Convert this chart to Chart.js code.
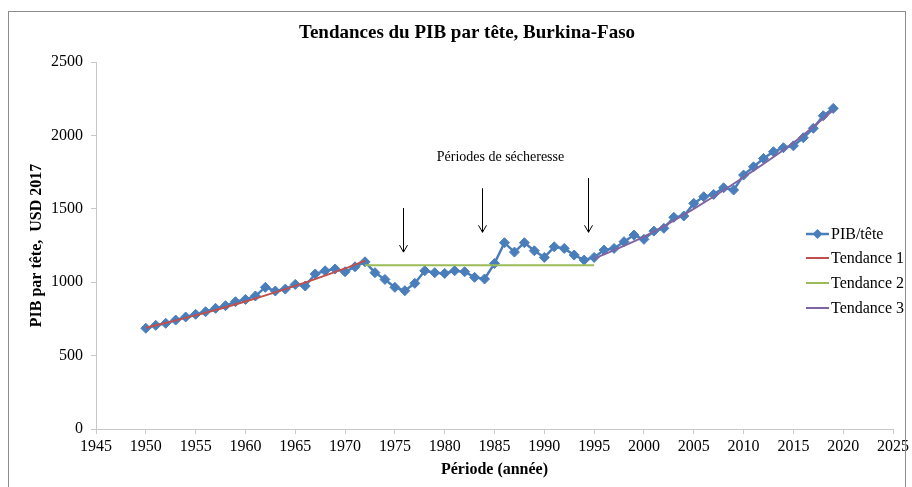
<!DOCTYPE html>
<html><head><meta charset="utf-8">
<script src="https://cdn.jsdelivr.net/npm/chart.js@4"></script>
<style>html,body{margin:0;padding:0;background:#fff;} #wrap{position:relative;width:912px;height:487px;}</style>
</head><body><div id="wrap"><canvas id="c" width="912" height="487"></canvas></div>
<script>
const years = [1950,1951,1952,1953,1954,1955,1956,1957,1958,1959,1960,1961,1962,1963,1964,1965,1966,1967,1968,1969,
1970,1971,1972,1973,1974,1975,1976,1977,1978,1979,1980,1981,1982,1983,1984,1985,1986,1987,1988,1989,
1990,1991,1992,1993,1994,1995,1996,1997,1998,1999,2000,2001,2002,2003,2004,2005,2006,2007,2008,2009,
2010,2011,2012,2013,2014,2015,2016,2017,2018,2019];
const pib = [686,706,720,742,763,781,799,822,840,867,883,906,965,940,953,985,974,1056,1078,1090,
1071,1105,1139,1065,1019,965,942,992,1078,1065,1060,1078,1071,1033,1022,1128,1269,1205,1269,1214,
1169,1241,1230,1185,1151,1169,1219,1230,1276,1321,1292,1348,1367,1442,1451,1537,1582,1598,1643,1628,
1730,1786,1843,1889,1916,1929,1984,2048,2134,2184];
const trend1Years = [1950,1955,1960,1965,1970,1972];
const trend1 = [690,774,869,975,1094,1146];
const trend2Years = [1972,1995];
const trend2 = [1115,1115];
const trend3Years = [1995,2000,2005,2010,2015,2019];
const trend3 = [1160,1310,1500,1715,1950,2172];
const seriesNames = ['PIB/tête','Tendance 1','Tendance 2','Tendance 3'];
const seriesColors = ['#4A7EBB','#C0504D','#9BBB59','#8064A2'];
const chartTitle = 'Tendances du PIB par tête, Burkina-Faso';
const xTitle = 'Période (année)';
const yTitle = 'PIB par tête,  USD 2017';
const droughtLabel = 'Périodes de sécheresse';
const droughtLabelPos = [1985.6, 1850];
const arrowYears = [1975.85, 1983.7, 1994.4];
const arrowTops = [1505, 1640, 1710];
const arrowBottoms = [1205, 1340, 1340];

const pts = (xs, ys) => xs.map((x, i) => ({x: x, y: ys[i]}));
const SERIF = '"Liberation Serif", "Times New Roman", serif';

const decor = {
  id: 'decor',
  afterDraw(chart) {
    const ctx = chart.ctx;
    const xs = chart.scales.x, ys = chart.scales.y;
    ctx.save();
    ctx.strokeStyle = '#8c8c8c';
    ctx.lineWidth = 1;
    ctx.strokeRect(8.5, 11.5, 897, 490);
    ctx.fillStyle = '#000';
    ctx.font = 'bold 19px ' + SERIF;
    ctx.textAlign = 'center';
    ctx.textBaseline = 'middle';
    ctx.fillText(chartTitle, 467, 33);
    ctx.font = '14px ' + SERIF;
    ctx.fillText(droughtLabel, xs.getPixelForValue(droughtLabelPos[0]), ys.getPixelForValue(droughtLabelPos[1]));
    ctx.strokeStyle = '#000';
    ctx.lineWidth = 1;
    arrowYears.forEach((yr, i) => {
      const x = Math.round(xs.getPixelForValue(yr)) + 0.5;
      const y1 = ys.getPixelForValue(arrowTops[i]);
      const y2 = ys.getPixelForValue(arrowBottoms[i]);
      ctx.beginPath();
      ctx.moveTo(x, y1); ctx.lineTo(x, y2);
      ctx.moveTo(x - 4, y2 - 7); ctx.lineTo(x, y2); ctx.lineTo(x + 4, y2 - 7);
      ctx.stroke();
    });
    ctx.font = '16px ' + SERIF;
    ctx.textAlign = 'left';
    const ly = [234, 258, 283, 308];
    seriesNames.forEach((n, i) => {
      ctx.strokeStyle = seriesColors[i];
      ctx.lineWidth = i === 0 ? 2.5 : 2;
      ctx.beginPath(); ctx.moveTo(806, ly[i]); ctx.lineTo(829, ly[i]); ctx.stroke();
      if (i === 0) {
        ctx.fillStyle = seriesColors[0];
        ctx.beginPath();
        ctx.moveTo(817.5, ly[i] - 5); ctx.lineTo(822.5, ly[i]); ctx.lineTo(817.5, ly[i] + 5); ctx.lineTo(812.5, ly[i]);
        ctx.closePath(); ctx.fill();
      }
      ctx.fillStyle = '#000';
      ctx.fillText(n, 831, ly[i] + 1);
    });
    ctx.restore();
  }
};

new Chart(document.getElementById('c'), {
  type: 'line',
  data: {
    datasets: [
      {label: seriesNames[0], data: pts(years, pib), borderColor: seriesColors[0], backgroundColor: seriesColors[0],
       borderWidth: 2.5, pointStyle: 'rectRot', pointRadius: 5, pointBorderWidth: 1,
       pointBackgroundColor: seriesColors[0], pointBorderColor: seriesColors[0], order: 2},
      {label: seriesNames[1], data: pts(trend1Years, trend1), borderColor: seriesColors[1], borderWidth: 2,
       pointRadius: 0, cubicInterpolationMode: 'monotone', order: 1},
      {label: seriesNames[2], data: pts(trend2Years, trend2), borderColor: seriesColors[2], borderWidth: 2,
       pointRadius: 0, order: 1},
      {label: seriesNames[3], data: pts(trend3Years, trend3), borderColor: seriesColors[3], borderWidth: 2,
       pointRadius: 0, cubicInterpolationMode: 'monotone', order: 1}
    ]
  },
  options: {
    responsive: false,
    animation: false,
    devicePixelRatio: 1,
    layout: {padding: {left: 0, right: 16, top: 62, bottom: 0}},
    plugins: {legend: {display: false}, title: {display: false}, tooltip: {enabled: false}},
    scales: {
      x: {
        type: 'linear', min: 1945, max: 2025,
        afterFit(s) { s.height = 58; },
        ticks: {stepSize: 5, color: '#000', font: {family: SERIF, size: 16}, padding: 3, maxRotation: 0,
                callback: v => String(v)},
        grid: {display: true, drawOnChartArea: false, drawTicks: true, tickLength: 5, color: '#c8c8c8'},
        border: {display: true, color: '#c8c8c8'},
        title: {display: true, text: xTitle, color: '#000', font: {family: SERIF, size: 16, weight: 'bold'},
                padding: {top: 0, bottom: 8}}
      },
      y: {
        min: 0, max: 2500,
        afterFit(s) { s.width = 96; },
        ticks: {stepSize: 500, color: '#000', font: {family: SERIF, size: 16}, padding: 8,
                callback: v => String(v)},
        grid: {display: true, drawOnChartArea: false, drawTicks: true, tickLength: 5, color: '#c8c8c8'},
        border: {display: true, color: '#c8c8c8'},
        title: {display: true, text: yTitle, color: '#000', font: {family: SERIF, size: 16, weight: 'bold'},
                padding: {top: 27, bottom: 0}}
      }
    }
  },
  plugins: [decor]
});
</script></body></html>
